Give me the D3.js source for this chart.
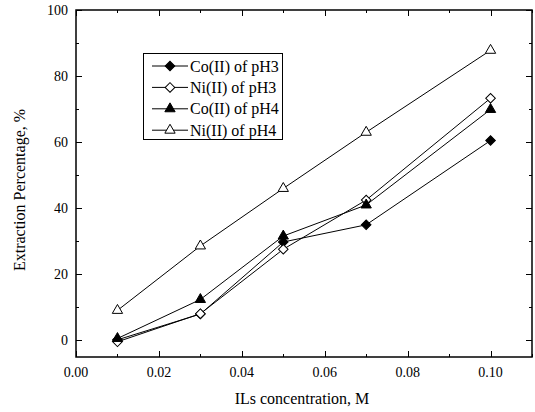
<!DOCTYPE html>
<html>
<head>
<meta charset="utf-8">
<script src="https://cdn.jsdelivr.net/npm/d3@7"></script>
<style>
  body { margin: 0; background: #fff; }
  text { font-family: "Liberation Serif", "Times New Roman", serif; fill: #000; }
</style>
</head>
<body>
<script>
// concentrations (M)
var conc = [0.01, 0.03, 0.05, 0.07, 0.10];

// extraction percentage, %
var coPH3 = [0.2, 8, 29.8, 35, 60.5];
var niPH3 = [-0.4, 8.1, 27.6, 42.5, 73.3];
var coPH4 = [0.6, 12.4, 31.6, 41, 69.9];
var niPH4 = [9.1, 28.6, 46, 63, 87.8];

var seriesNames = ["Co(II) of pH3", "Ni(II) of pH3", "Co(II) of pH4", "Ni(II) of pH4"];
var xTicks = [0, 0.02, 0.04, 0.06, 0.08, 0.10];
var yTicks = [0, 20, 40, 60, 80, 100];

var width = 535, height = 412;
var margin = { top: 10, right: 3, bottom: 55, left: 76 };

var svg = d3.select("body").append("svg")
    .attr("width", width)
    .attr("height", height);

var x = d3.scaleLinear().domain([0, 0.11]).range([margin.left, width - margin.right]);
var y = d3.scaleLinear().domain([-5, 100]).range([height - margin.bottom, margin.top]);

// diamonds are squares turned by 45 degrees
var series = [
    { name: seriesNames[0], values: coPH3, symbol: d3.symbolSquare, rot: 45, size: 46, fill: "#000" },
    { name: seriesNames[1], values: niPH3, symbol: d3.symbolSquare, rot: 45, size: 46, fill: "#fff" },
    { name: seriesNames[2], values: coPH4, symbol: d3.symbolTriangle, rot: 0, size: 46, fill: "#000" },
    { name: seriesNames[3], values: niPH4, symbol: d3.symbolTriangle, rot: 0, size: 46, fill: "#fff" }
];

// minor ticks
var xMinor = d3.range(0, 0.111, 0.01);
var yMinor = d3.range(0, 101, 10);

var x0 = x.range()[0], x1 = x.range()[1], y0 = y.range()[0], y1 = y.range()[1];
var ticks = svg.append("g").attr("stroke", "#000").attr("stroke-width", 1);

// bottom and top ticks (inward)
xMinor.forEach(function (v, i) {
    var len = i % 2 === 0 ? 6 : 3;
    var px = Math.round(x(v)) + 0.5;
    ticks.append("line").attr("x1", px).attr("x2", px).attr("y1", y0).attr("y2", y0 - len);
    ticks.append("line").attr("x1", px).attr("x2", px).attr("y1", y1).attr("y2", y1 + len);
});
// left and right ticks (inward)
yMinor.forEach(function (v, i) {
    var len = i % 2 === 0 ? 6 : 3;
    var py = Math.round(y(v)) + 0.5;
    ticks.append("line").attr("x1", x0).attr("x2", x0 + len).attr("y1", py).attr("y2", py);
    ticks.append("line").attr("x1", x1).attr("x2", x1 - len).attr("y1", py).attr("y2", py);
});

// frame
svg.append("rect")
    .attr("x", x0).attr("y", y1)
    .attr("width", x1 - x0).attr("height", y0 - y1)
    .attr("fill", "none").attr("stroke", "#000").attr("stroke-width", 1.5);

// tick labels
svg.append("g").selectAll("text").data(xTicks).enter().append("text")
    .attr("x", function (d) { return x(d); })
    .attr("y", y0 + 20)
    .attr("text-anchor", "middle")
    .style("font-size", "14px")
    .text(function (d) { return d3.format(".2f")(d); });

svg.append("g").selectAll("text").data(yTicks).enter().append("text")
    .attr("x", x0 - 8)
    .attr("y", function (d) { return y(d); })
    .attr("dy", "0.35em")
    .attr("text-anchor", "end")
    .style("font-size", "14px")
    .text(function (d) { return d; });

// axis titles
svg.append("text")
    .attr("x", 302)
    .attr("y", 404)
    .attr("text-anchor", "middle")
    .style("font-size", "16px")
    .text("ILs concentration, M");

svg.append("text")
    .attr("transform", "translate(25,190) rotate(-90)")
    .attr("text-anchor", "middle")
    .style("font-size", "16px")
    .text("Extraction Percentage, %");

// lines and markers
var line = d3.line()
    .x(function (d, i) { return x(conc[i]); })
    .y(function (d) { return y(d); });

var plot = svg.append("g");
series.forEach(function (s) {
    plot.append("path")
        .attr("d", line(s.values))
        .attr("fill", "none")
        .attr("stroke", "#000")
        .attr("stroke-width", 1);
});
series.forEach(function (s) {
    plot.selectAll(null).data(s.values).enter().append("path")
        .attr("transform", function (d, i) {
            return "translate(" + x(conc[i]) + "," + y(d) + ") rotate(" + s.rot + ")";
        })
        .attr("d", d3.symbol().type(s.symbol).size(s.size))
        .attr("fill", s.fill)
        .attr("stroke", "#000")
        .attr("stroke-width", 1);
});

// legend
var legend = svg.append("g");
legend.append("rect")
    .attr("x", 143.5).attr("y", 53.5)
    .attr("width", 139).attr("height", 86)
    .attr("fill", "#fff").attr("stroke", "#000").attr("stroke-width", 1);

series.forEach(function (s, i) {
    var ly = 66 + i * 21.4;
    legend.append("line")
        .attr("x1", 152).attr("x2", 188)
        .attr("y1", ly).attr("y2", ly)
        .attr("stroke", "#000");
    legend.append("path")
        .attr("transform", "translate(170," + ly + ") rotate(" + s.rot + ")")
        .attr("d", d3.symbol().type(s.symbol).size(s.size))
        .attr("fill", s.fill)
        .attr("stroke", "#000");
    legend.append("text")
        .attr("x", 190).attr("y", ly)
        .attr("dy", "0.35em")
        .style("font-size", "16px")
        .text(s.name);
});
</script>
</body>
</html>
